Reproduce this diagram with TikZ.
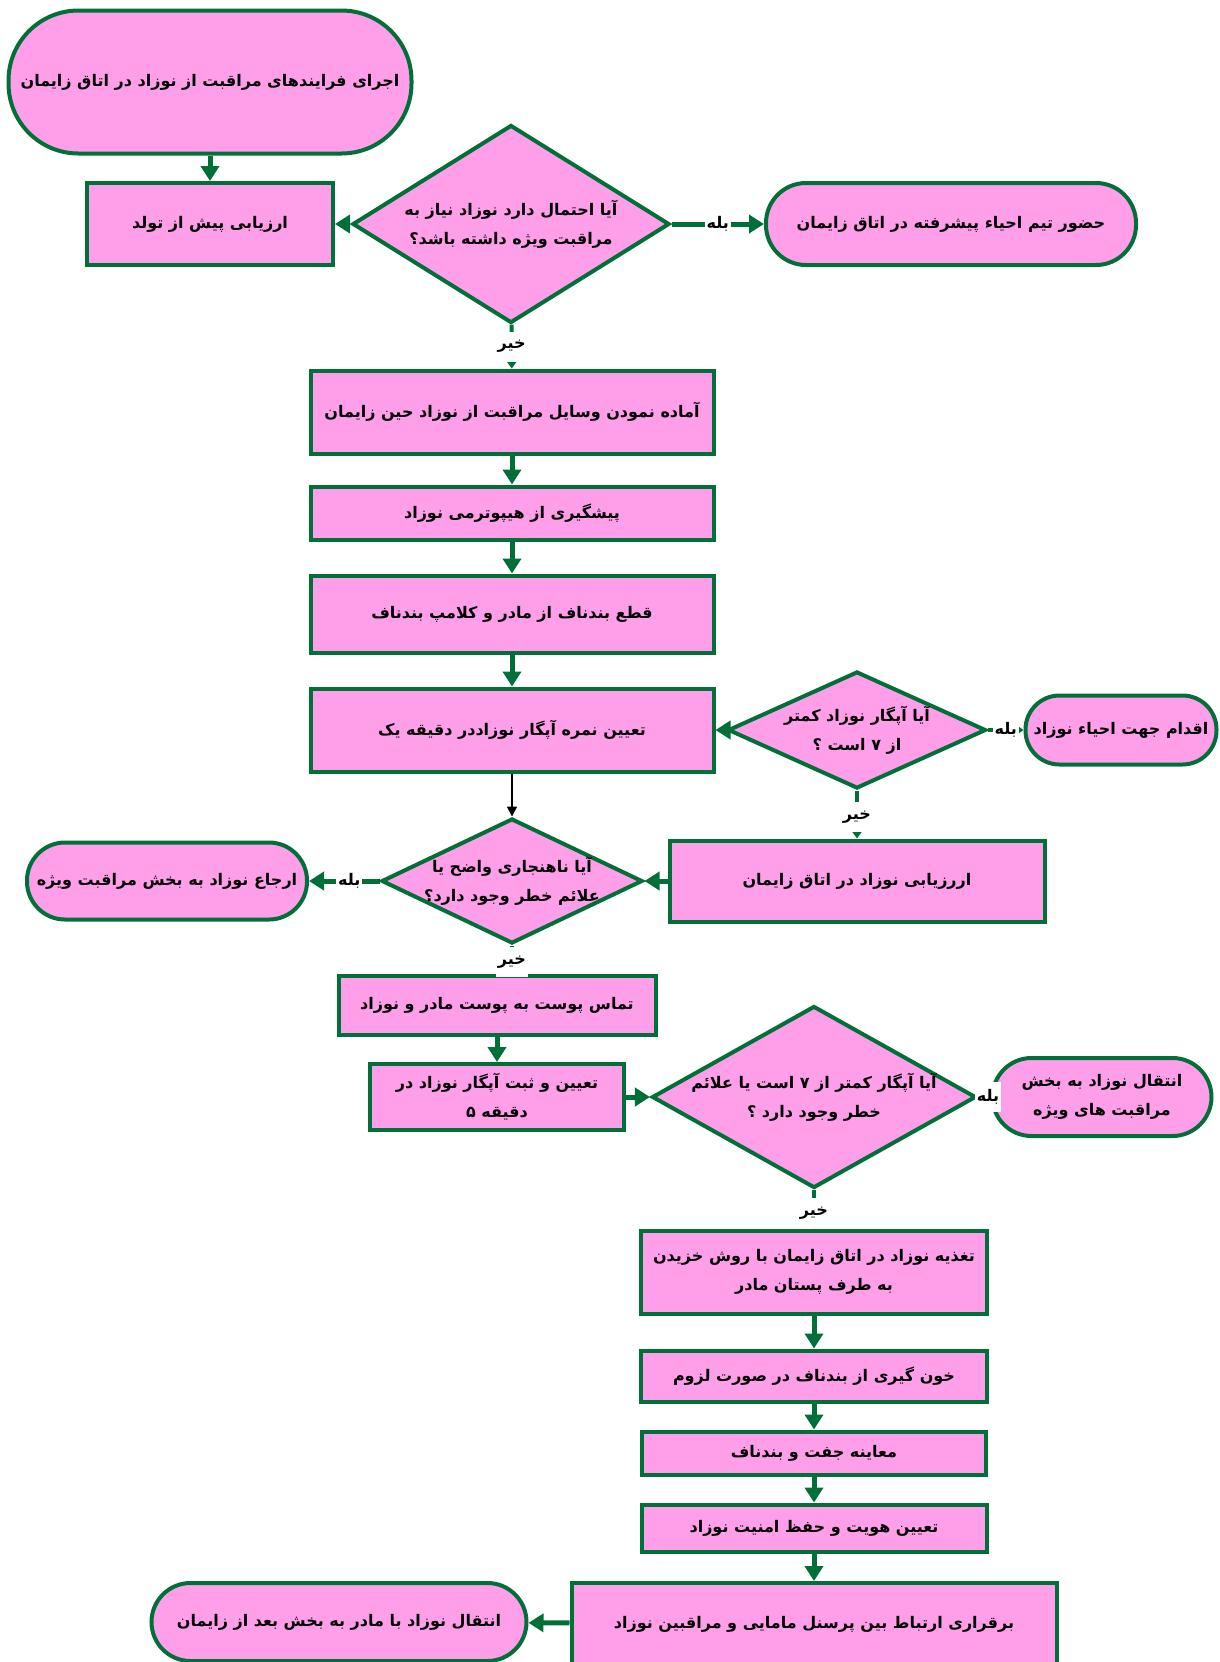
\documentclass[tikz,border=0pt]{standalone}
\usepackage{fontspec}
\usetikzlibrary{shapes.geometric,arrows.meta}
\newfontfamily\fa[Script=Arabic]{DejaVu Sans}
\TeXXeTstate=1
\definecolor{pinkfill}{RGB}{255,158,233}
\definecolor{darkgreen}{RGB}{0,112,56}

\begin{document}
\begin{tikzpicture}
      [x=0.5pt,y=-0.5pt,
       font=\fa\bfseries\fontsize{8}{14.5}\selectfont,
       box/.style={draw=darkgreen,fill=pinkfill,line width=2pt,align=center,inner sep=2pt},
       term/.style={box,rounded corners=#1},
       dia/.style={box,diamond,inner sep=0pt},
       qtxt/.style={align=center},
       flow/.style={draw=darkgreen,line width=2.5pt,-{Triangle[length=7.5pt,width=9pt]}},
       thin flow/.style={draw=darkgreen,line width=2pt,-{Triangle[length=4pt,width=5.5pt]}},
       ans/.style={fill=white,inner sep=1pt,minimum height=15pt}]
      \useasboundingbox (0,0) rectangle (1220,1662);

      \node[term=35pt,minimum width=201.5pt,minimum height=71.5pt] (start) at (210,82)
        {\beginR اجرای فرایندهای مراقبت از نوزاد در اتاق زایمان\endR};
      \node[box,minimum width=123pt,minimum height=41pt] (pre) at (210,224)
        {\beginR ارزیابی پیش از تولد\endR};
      \node[dia,minimum width=158.5pt,minimum height=99pt,
        label={[qtxt]center:{\beginR آیا احتمال دارد نوزاد نیاز  به\endR\\\beginR مراقبت ویژه داشته باشد؟\endR}}] (q1) at (511,224) {};
      \node[term=20pt,minimum width=185pt,minimum height=41pt] (team) at (951,224)
        {\beginR حضور تیم احیاء پیشرفته در اتاق زایمان\endR};
      \node[box,minimum width=201.5pt,minimum height=41.5pt] (prep) at (512,412)
        {\beginR آماده نمودن وسایل مراقبت از نوزاد حین زایمان\endR};
      \node[box,minimum width=201.5pt,minimum height=26.5pt] (hypo) at (512,513)
        {\beginR پیشگیری از هیپوترمی نوزاد\endR};
      \node[box,minimum width=201.5pt,minimum height=38.5pt] (cord) at (512,614)
        {\beginR قطع بندناف از مادر و کلامپ بندناف\endR};
      \node[box,minimum width=201.5pt,minimum height=41.5pt] (apg1) at (512,730)
        {\beginR تعیین نمره آپگار نوزاددر دقیقه یک\endR};
      \node[dia,minimum width=129pt,minimum height=58.5pt,
        label={[qtxt]center:{\beginR آیا آپگار نوزاد کمتر\endR\\\beginR از ۷ است ؟\endR}}] (q2) at (857,730) {};
      \node[term=17pt,minimum width=95.5pt,minimum height=34.5pt] (resus) at (1121,730)
        {\beginR اقدام جهت احیاء نوزاد\endR};
      \node[box,minimum width=187.5pt,minimum height=40.5pt] (eval) at (857,881)
        {\beginR اررزیابی نوزاد در اتاق زایمان\endR};
      \node[dia,minimum width=130.5pt,minimum height=62.5pt,
        label={[qtxt]center:{\beginR آیا ناهنجاری واضح یا\endR\\\beginR علائم خطر وجود دارد؟\endR}}] (q3) at (512,881) {};
      \node[term=19pt,minimum width=140pt,minimum height=38.5pt] (refer) at (167,881)
        {\beginR ارجاع نوزاد به بخش مراقبت ویژه\endR};
      \node[box,minimum width=158.5pt,minimum height=29.5pt] (skin) at (497,1005)
        {\beginR تماس پوست به پوست مادر و نوزاد\endR};
      \node[box,minimum width=127pt,minimum height=33pt] (apg5) at (497,1097)
        {\beginR تعیین و ثبت آپگار نوزاد در\endR\\\beginR دقیقه ۵\endR};
      \node[dia,minimum width=162pt,minimum height=91pt,
        label={[qtxt]center:{\beginR آیا آپگار کمتر از ۷ است یا علائم\endR\\\beginR خطر وجود دارد ؟\endR}}] (q4) at (814,1097) {};
      \node[term=19.5pt,minimum width=109.5pt,minimum height=39pt] (nicu) at (1102,1097)
        {\beginR انتقال نوزاد به بخش\endR\\\beginR مراقبت های ویژه\endR};
      \node[box,minimum width=173pt,minimum height=41.5pt] (feed) at (814,1272)
        {\beginR تغذیه نوزاد در اتاق زایمان با روش خزیدن\endR\\\beginR به طرف پستان مادر\endR};
      \node[box,minimum width=173pt,minimum height=25.5pt] (blood) at (814,1376)
        {\beginR خون گیری از بندناف در صورت لزوم\endR};
      \node[box,minimum width=172pt,minimum height=21.5pt] (exam) at (814,1453)
        {\beginR معاینه جفت و بندناف\endR};
      \node[box,minimum width=172.5pt,minimum height=23.5pt] (ident) at (814,1528)
        {\beginR تعیین هویت و حفظ امنیت نوزاد\endR};
      \node[box,minimum width=242.5pt,minimum height=41pt] (comm) at (814,1624)
        {\beginR برقراری ارتباط بین پرسنل مامایی و مراقبین نوزاد\endR};
      \node[term=19.5pt,minimum width=187.5pt,minimum height=39pt] (transfer) at (339,1622)
        {\beginR انتقال نوزاد با مادر به بخش بعد از زایمان\endR};

      \draw[flow] (start) -- (pre);
      \draw[flow] (q1) -- (pre);
      \draw[flow] (q1) -- node[ans]{\beginR بله\endR} (team);
      \draw[thin flow] (q1) -- node[ans]{\beginR خیر\endR} (prep);
      \foreach \a/\b in {prep/hypo,hypo/cord,cord/apg1,feed/blood,blood/exam,exam/ident,ident/comm} {
        \draw[flow] (\a) -- (\b);
      }
      \draw[flow] (q2) -- (apg1);
      \draw[thin flow] (q2) -- node[ans]{\beginR بله\endR} (resus);
      \draw[thin flow] (q2) -- node[ans,pos=0.55]{\beginR خیر\endR} (eval);
      \draw[line width=0.75pt,-{Triangle[length=5pt,width=5pt]}] (apg1) -- (q3);
      \draw[flow] (eval) -- (q3);
      \draw[flow] (q3) -- node[ans,pos=0.43]{\beginR بله\endR} (refer);
      \draw[thin flow] (q3.south) -- node[ans,pos=0.58]{\beginR خیر\endR} (q3.south |- skin.north);
      \draw[flow] (skin) -- (apg5);
      \draw[flow] (apg5) -- (q4);
      \draw[thin flow] (q4) -- node[ans,pos=0.8]{\beginR بله\endR} (nicu);
      \draw[thin flow] (q4) -- node[ans,pos=0.6]{\beginR خیر\endR} (feed);
      \draw[flow] (comm) -- (transfer);
    \end{tikzpicture}
\end{document}
